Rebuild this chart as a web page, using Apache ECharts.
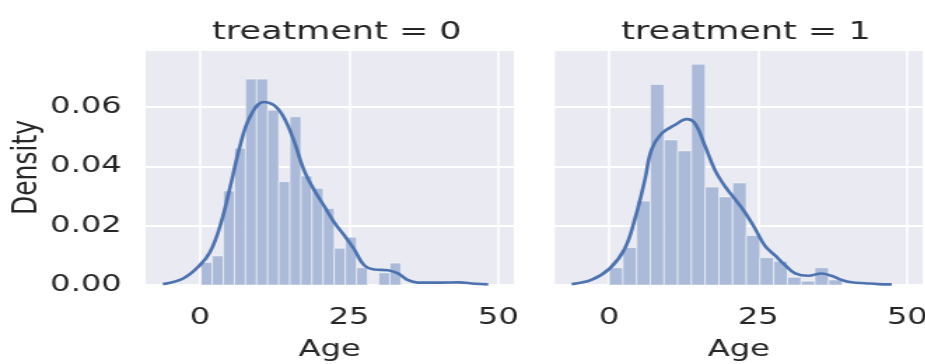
<!DOCTYPE html>
<html>
<head>
<meta charset="utf-8">
<script src="https://cdn.jsdelivr.net/npm/echarts@6/dist/echarts.min.js"></script>
<style>
  html, body { margin: 0; padding: 0; background: #fff; overflow: hidden; }
  /* the reference picture is stretched sideways, so the chart is too */
  #chart { width: 661px; height: 364px; transform: scaleX(1.4); transform-origin: 0 0; }
</style>
</head>
<body>
<div id="chart"></div>
<script>
// treatment = 0 : histogram (density) and kde
var leftBinStart = 0.2;
var leftBinWidth = 1.86;
var leftDensity = [0.0076, 0.0098, 0.0317, 0.0461, 0.0694, 0.0694, 0.0589, 0.0348, 0.0567,
                   0.0367, 0.0326, 0.0258, 0.0124, 0.0161, 0.0058, 0, 0.0041, 0.0074];
var leftKdeX = [-6.2, -2.8, 0, 1.7, 3.4, 5.1, 6.7, 8.4, 10.7, 12.4, 14.0, 15.7, 17.4, 19.1,
                20.8, 22.5, 24.2, 25.8, 27.5, 29.2, 31.5, 33.2, 34.8, 36.5, 40.5, 43.3, 46.1, 48.3];
var leftKdeY = [0.0003, 0.0022, 0.0067, 0.0111, 0.0200, 0.0333, 0.0467, 0.0567, 0.0617, 0.0606,
                0.0567, 0.0489, 0.0389, 0.0322, 0.0267, 0.0211, 0.0167, 0.0122, 0.0067, 0.0052,
                0.0050, 0.0039, 0.0017, 0.0008, 0.0008, 0.0009, 0.0004, 0.0002];

// treatment = 1
var rightBinStart = 0;
var rightBinWidth = 2.3;
var rightDensity = [0.0058, 0.0126, 0.0283, 0.0676, 0.0489, 0.0452, 0.0744, 0.0330, 0.0297,
                    0.0344, 0.0167, 0.0092, 0.0080, 0.0026, 0.0013, 0.0058, 0.0017];
var rightKdeX = [-6.3, -3.0, 0.1, 2.6, 4.3, 6.0, 7.1, 8.8, 11.0, 13.0, 14.4, 16.1, 17.7, 19.4,
                 21.1, 22.8, 24.5, 26.1, 27.8, 29.5, 31.2, 33.4, 35.6, 37.3, 39.0, 40.7, 42.9, 45.1, 47.4];
var rightKdeY = [0.0003, 0.0017, 0.0056, 0.0122, 0.0222, 0.0356, 0.0456, 0.0511, 0.0539, 0.0559,
                 0.0544, 0.0467, 0.0389, 0.0333, 0.0289, 0.0244, 0.0189, 0.0133, 0.0100, 0.0067,
                 0.0039, 0.0031, 0.0039, 0.0031, 0.0017, 0.0009, 0.0006, 0.0003, 0.0002];

var panelTitles = ['treatment = 0', 'treatment = 1'];
var xTicks = [0, 25, 50];
var xName = 'Age';
var yName = 'Density';

var textColor = '#262626';
var font = 'DejaVu Sans';

function binRows(start, width, dens) {
    var rows = [];
    for (var i = 0; i < dens.length; i++) {
        rows.push([start + i * width, start + (i + 1) * width, dens[i]]);
    }
    return rows;
}

function zipXY(xs, ys) {
    var out = [];
    for (var i = 0; i < xs.length; i++) out.push([xs[i], ys[i]]);
    return out;
}

function histItem(params, api) {
    var p0 = api.coord([api.value(0), api.value(2)]);
    var p1 = api.coord([api.value(1), 0]);
    return {
        type: 'rect',
        shape: { x: p0[0], y: p0[1], width: p1[0] - p0[0], height: p1[1] - p0[1] },
        style: { fill: '#abbad8', stroke: 'rgba(255,255,255,0.5)', lineWidth: 1 }
    };
}

function xAxisOf(idx) {
    return {
        type: 'value', gridIndex: idx, min: -9.1, max: 52.6,
        name: xName, nameLocation: 'middle', nameGap: 54,
        nameTextStyle: { color: textColor, fontSize: 23, fontFamily: font },
        axisLine: { show: false },
        axisTick: { show: false, customValues: xTicks },
        axisLabel: { customValues: xTicks, color: textColor, fontSize: 23, fontFamily: font, margin: 22 },
        splitLine: { show: true, lineStyle: { color: '#fff', width: 1.5 } }
    };
}

function yAxisOf(idx) {
    return {
        type: 'value', gridIndex: idx, min: 0, max: 0.0792, interval: 0.02,
        name: idx === 0 ? yName : '', nameLocation: 'middle', nameGap: 72,
        nameTextStyle: { color: textColor, fontSize: 25, fontFamily: font },
        axisLine: { show: false },
        axisTick: { show: false },
        axisLabel: {
            show: idx === 0, showMaxLabel: false, color: textColor, fontSize: 23, fontFamily: font, margin: 17,
            formatter: function (v) { return v.toFixed(2); }
        },
        splitLine: { show: true, lineStyle: { color: '#fff', width: 2 } }
    };
}

var chart = echarts.init(document.getElementById('chart'));
chart.setOption({
    animation: false,
    title: [
        { text: panelTitles[0], left: 235.6, top: 15, textAlign: 'center',
          textStyle: { color: textColor, fontSize: 25, fontWeight: 'normal', fontFamily: font } },
        { text: panelTitles[1], left: 527.8, top: 15, textAlign: 'center',
          textStyle: { color: textColor, fontSize: 25, fontWeight: 'normal', fontFamily: font } }
    ],
    grid: [
        { left: 104, top: 50, width: 263, height: 235, show: true, backgroundColor: '#eaeaf2',
          borderWidth: 0, outerBoundsMode: 'none' },
        { left: 396.4, top: 50, width: 262.7, height: 235, show: true, backgroundColor: '#eaeaf2',
          borderWidth: 0, outerBoundsMode: 'none' }
    ],
    xAxis: [xAxisOf(0), xAxisOf(1)],
    yAxis: [yAxisOf(0), yAxisOf(1)],
    series: [
        { type: 'custom', xAxisIndex: 0, yAxisIndex: 0, renderItem: histItem,
          data: binRows(leftBinStart, leftBinWidth, leftDensity), z: 2 },
        { type: 'line', xAxisIndex: 0, yAxisIndex: 0, data: zipXY(leftKdeX, leftKdeY),
          smooth: 0.4, showSymbol: false, lineStyle: { color: '#4c72b0', width: 2.6 }, z: 3 },
        { type: 'custom', xAxisIndex: 1, yAxisIndex: 1, renderItem: histItem,
          data: binRows(rightBinStart, rightBinWidth, rightDensity), z: 2 },
        { type: 'line', xAxisIndex: 1, yAxisIndex: 1, data: zipXY(rightKdeX, rightKdeY),
          smooth: 0.4, showSymbol: false, lineStyle: { color: '#4c72b0', width: 2.6 }, z: 3 }
    ]
});
</script>
</body>
</html>
